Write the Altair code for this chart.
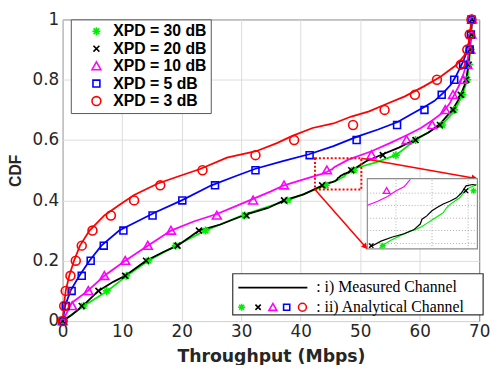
import math
import altair as alt
import pandas as pd

# ---------------- data ----------------
SERIES = ["XPD = 30 dB", "XPD = 20 dB", "XPD = 10 dB", "XPD = 5 dB", "XPD = 3 dB"]
COLORS = ["#00ee00", "#000000", "#ff00ff", "#0000ff", "#ff0000"]

CDF_LEVELS = [0.00, 0.05, 0.10, 0.15, 0.20, 0.25, 0.30, 0.35, 0.40, 0.45, 0.50,
              0.55, 0.60, 0.65, 0.70, 0.75, 0.80, 0.85, 0.90, 0.95, 1.00]

# analytical channel (markers): throughput at each CDF level
ANA_30 = [0, 3.5, 7.4, 10.7, 14.4, 19.0, 24.0, 30.6, 37.8, 44.2, 48.9, 56.0, 59.3, 63.8, 65.8, 67.2, 68.0, 68.3, 68.6, 68.7, 68.8]
ANA_20 = [0, 3.2, 6.0, 10.5, 14.0, 19.3, 22.9, 30.9, 37.2, 43.6, 48.5, 53.8, 59.3, 63.4, 65.6, 66.9, 67.8, 68.2, 68.5, 68.7, 68.8]
ANA_10 = [0, 1.6, 4.3, 7.0, 10.5, 14.3, 18.2, 25.9, 32.0, 37.2, 44.4, 51.9, 57.8, 62.1, 64.3, 65.6, 67.3, 68.0, 68.5, 68.7, 68.8]
ANA_5 = [0, 0.5, 1.5, 3.2, 4.7, 6.9, 10.2, 15.1, 20.1, 25.6, 32.4, 41.5, 49.4, 56.2, 60.8, 63.7, 65.8, 67.3, 68.4, 68.6, 68.7]
ANA_3 = [0, 0.25, 0.5, 1.3, 2.2, 3.2, 5.0, 8.1, 12.0, 16.4, 23.5, 32.4, 38.9, 48.8, 54.1, 59.2, 62.9, 66.9, 68.0, 68.4, 68.7]

# measured channel (lines): (throughput, CDF)
MEAS_30 = [(0, 0), (3.5, 0.05), (7.4, 0.098), (10.7, 0.149), (14.4, 0.20), (19.0, 0.25), (24.0, 0.30),
           (30.6, 0.354), (37.8, 0.40), (41.0, 0.425), (44.03, 0.4476), (44.28, 0.4514), (44.62, 0.4550),
           (45.13, 0.4594), (45.63, 0.4632), (45.97, 0.4653), (46.23, 0.4674), (46.48, 0.4703),
           (46.73, 0.4732), (46.99, 0.4762), (47.33, 0.4800), (47.50, 0.4845), (47.67, 0.4874),
           (47.92, 0.4904), (48.17, 0.4933), (48.43, 0.4992), (48.68, 0.5027), (48.94, 0.5045),
           (49.07, 0.5057), (52.5, 0.525), (56.0, 0.55), (59.3, 0.60), (61.8, 0.63), (63.8, 0.652),
           (65.8, 0.695), (67.2, 0.75), (68.0, 0.80), (68.3, 0.85), (68.6, 0.93), (68.8, 1.0)]
MEAS_20 = [(0, 0), (1.5, 0.02), (3.2, 0.047), (6.0, 0.10), (8.5, 0.13), (10.5, 0.15), (14.0, 0.20),
           (17.0, 0.23), (19.3, 0.25), (22.9, 0.30), (26.5, 0.32), (30.9, 0.354), (34.5, 0.375),
           (37.2, 0.40), (40.5, 0.42), (43.52, 0.4485), (44.11, 0.4541), (44.70, 0.4579),
           (45.30, 0.4609), (45.80, 0.4644), (46.14, 0.4697), (46.23, 0.4741), (46.48, 0.4771),
           (46.73, 0.4815), (46.99, 0.4845), (47.33, 0.4880), (47.67, 0.4904), (48.00, 0.4933),
           (48.26, 0.4977), (48.43, 0.5022), (48.51, 0.5045), (48.85, 0.5057), (49.02, 0.5051),
           (51.0, 0.53), (53.8, 0.553), (56.5, 0.575), (59.3, 0.603), (61.5, 0.625), (63.4, 0.653),
           (64.6, 0.68), (65.6, 0.703), (66.4, 0.73), (66.9, 0.75), (67.5, 0.78), (67.8, 0.80),
           (68.2, 0.85), (68.5, 0.92), (68.8, 1.0)]
MEAS_10 = [(0, 0), (1.5, 0.06), (4.2, 0.10), (7.0, 0.15), (10.5, 0.20), (14.3, 0.25), (18.2, 0.30),
           (22.0, 0.33), (25.9, 0.355), (29.0, 0.38), (32.0, 0.405), (35.0, 0.43), (37.2, 0.45),
           (40.5, 0.47), (43.4, 0.4868), (43.94, 0.4904), (44.45, 0.4948), (44.87, 0.4998),
           (45.30, 0.5036), (45.63, 0.5104), (48.0, 0.535), (51.9, 0.563), (55.0, 0.59), (57.9, 0.617),
           (60.2, 0.64), (62.1, 0.665), (63.8, 0.69), (65.0, 0.72), (65.8, 0.75), (66.6, 0.78),
           (67.3, 0.816), (68.0, 0.86), (68.4, 0.913), (68.8, 1.0)]
MEAS_5 = [(0, 0), (0.4, 0.05), (1.3, 0.10), (2.8, 0.15), (4.5, 0.20), (6.5, 0.25), (9.5, 0.30),
          (12.5, 0.33), (15.5, 0.36), (20.0, 0.40), (25.0, 0.45), (29.0, 0.48), (32.4, 0.505),
          (37.0, 0.53), (41.4, 0.553), (45.5, 0.58), (49.6, 0.612), (53.0, 0.635), (56.3, 0.66),
          (58.5, 0.685), (60.7, 0.709), (62.5, 0.73), (64.0, 0.757), (65.3, 0.785), (66.2, 0.816),
          (67.3, 0.86), (68.1, 0.902), (68.5, 0.95), (68.7, 1.0)]
MEAS_3 = [(0, 0), (0.2, 0.05), (0.5, 0.10), (1.1, 0.15), (1.9, 0.20), (2.9, 0.25), (4.5, 0.30),
          (7.0, 0.35), (9.5, 0.385), (12.0, 0.418), (16.0, 0.456), (19.5, 0.48), (23.1, 0.504),
          (27.6, 0.542), (32.5, 0.563), (36.0, 0.59), (38.6, 0.614), (42.0, 0.64), (45.5, 0.655),
          (48.5, 0.678), (51.5, 0.695), (54.1, 0.717), (57.5, 0.745), (60.7, 0.778), (63.5, 0.81),
          (66.1, 0.848), (67.5, 0.88), (68.2, 0.92), (68.5, 0.96), (68.7, 1.0)]

ANA = dict(zip(SERIES, [ANA_30, ANA_20, ANA_10, ANA_5, ANA_3]))
MEAS = dict(zip(SERIES, [MEAS_30, MEAS_20, MEAS_10, MEAS_5, MEAS_3]))

X_TICKS = [0, 10, 20, 30, 40, 50, 60, 70]
Y_TICKS = [0, 0.2, 0.4, 0.6, 0.8, 1]

# zoom annotation
RECT_X = [42.4, 50.2]
RECT_Y = [0.436, 0.54]
ZOOM_X = [43.4, 49.1]     # data range shown inside the inset
ZOOM_Y = [0.447, 0.511]
INSET_X = [51.2, 69.7]    # inset placement on main axes
INSET_Y = [0.239, 0.472]
INSET_GRID_X = [44.88, 46.75, 48.62]
INSET_GRID_Y = [0.452, 0.4638, 0.475, 0.4866, 0.4978]

LEGEND_TEXT = [": i) Measured Channel", ": ii) Analytical Channel"]

# ---------------- styling ----------------
W, H = 422.5, 306
STAR = "M0,-0.9L0,0.9M-0.9,0L0.9,0M-0.64,-0.64L0.64,0.64M-0.64,0.64L0.64,-0.64"
XMARK = "M-0.67,-0.67L0.67,0.67M-0.67,0.67L0.67,-0.67"
TRI = "M0,-0.95L1,0.8L-1,0.8Z"
SQR = "M-0.78,-0.78L0.78,-0.78L0.78,0.78L-0.78,0.78Z"
SHAPES = [STAR, XMARK, TRI, SQR, "circle"]
TICK_FONT = "DejaVu Sans"
TXT = "#262626"

# ---------------- frames ----------------
ana_df = pd.DataFrame([{"series": s, "x": x, "y": y}
                       for s in SERIES for x, y in zip(ANA[s], CDF_LEVELS)])
meas_df = pd.DataFrame([{"series": s, "x": x, "y": y, "i": i}
                        for s in SERIES for i, (x, y) in enumerate(MEAS[s])])


def to_inset(df):
    d = df[(df.x >= ZOOM_X[0]) & (df.x <= ZOOM_X[1]) &
           (df.y >= ZOOM_Y[0]) & (df.y <= ZOOM_Y[1])].copy()
    d["x"] = INSET_X[0] + (d.x - ZOOM_X[0]) * (INSET_X[1] - INSET_X[0]) / (ZOOM_X[1] - ZOOM_X[0])
    d["y"] = INSET_Y[0] + (d.y - ZOOM_Y[0]) * (INSET_Y[1] - INSET_Y[0]) / (ZOOM_Y[1] - ZOOM_Y[0])
    return d


inset_meas = to_inset(meas_df)
inset_ana = to_inset(ana_df)

xs = alt.Scale(domain=[0, 70], nice=False, zero=False)
ys = alt.Scale(domain=[0, 1], nice=False, zero=False)
cscale = alt.Scale(domain=SERIES, range=COLORS)
sscale = alt.Scale(domain=SERIES, range=SHAPES)

x_axis = alt.Axis(values=X_TICKS, title="Throughput (Mbps)", grid=True, gridColor="#dcdcdc",
                  domain=False, ticks=False, labelFlush=False, labelOverlap=False,
                  labelFont=TICK_FONT, labelFontSize=17, labelColor=TXT, labelPadding=3,
                  titleFont=TICK_FONT, titleFontSize=17.5, titleFontWeight="bold",
                  titleColor=TXT, titlePadding=8)
y_axis = alt.Axis(values=Y_TICKS, format="~g", title="CDF", grid=True, gridColor="#dcdcdc",
                  domain=False, ticks=False, labelFlush=False, labelOverlap=False,
                  labelFont=TICK_FONT, labelFontSize=17, labelColor=TXT, labelPadding=4,
                  titleFont="Liberation Sans", titleFontSize=16, titleFontWeight="bold",
                  titleColor=TXT, titlePadding=9)

LEG = alt.Legend(title=None, orient="none", legendX=8.2, legendY=0, fillColor="white",
                 strokeColor="#555555", padding=4, labelFont="Liberation Sans", labelFontSize=16,
                 labelFontWeight="bold", labelColor="black", symbolSize=81,
                 symbolStrokeWidth=1.6, rowPadding=1.7, labelOffset=9, symbolOffset=14)

lines = alt.Chart(meas_df).mark_line(strokeWidth=1.8).encode(
    x=alt.X("x:Q", scale=xs, axis=x_axis),
    y=alt.Y("y:Q", scale=ys, axis=y_axis),
    color=alt.Color("series:N", scale=cscale, legend=None),
    order="i:Q",
)

points = alt.Chart(ana_df).mark_point(filled=False, strokeWidth=1.6, size=81, opacity=1).encode(
    x=alt.X("x:Q", scale=xs),
    y=alt.Y("y:Q", scale=ys),
    color=alt.Color("series:N", scale=cscale, legend=LEG),
    shape=alt.Shape("series:N", scale=sscale, legend=LEG),
)

zoom_rect = alt.Chart(pd.DataFrame({"x": [RECT_X[0]], "x2": [RECT_X[1]],
                                    "y": [RECT_Y[0]], "y2": [RECT_Y[1]]})).mark_rect(
    filled=False, color="#ff0000", strokeDash=[2, 2], strokeWidth=2).encode(
    x="x:Q", x2="x2:Q", y="y:Q", y2="y2:Q")

arrows = pd.DataFrame({"x": [RECT_X[1], RECT_X[0]], "y": [RECT_Y[1], RECT_Y[0]],
                       "x2": [INSET_X[1], INSET_X[0]], "y2": [INSET_Y[1], INSET_Y[0]]})
arrow_lines = alt.Chart(arrows).mark_rule(color="#ff0000", strokeWidth=1.5).encode(
    x="x:Q", y="y:Q", x2="x2:Q", y2="y2:Q")

heads = []
for _, r in arrows.iterrows():
    dxp = (r.x2 - r.x) * W / 70
    dyp = (r.y - r.y2) * H
    ang = math.degrees(math.atan2(dyp, dxp))
    heads.append(alt.Chart(pd.DataFrame({"x": [r.x2], "y": [r.y2]})).mark_point(
        shape="triangle-right", filled=True, color="#ff0000", size=45, opacity=1, angle=ang,
        xOffset=-3 * math.cos(math.radians(ang)), yOffset=-3 * math.sin(math.radians(ang))).encode(
        x="x:Q", y="y:Q"))

inset_box = alt.Chart(pd.DataFrame({"x": [INSET_X[0]], "x2": [INSET_X[1]],
                                    "y": [INSET_Y[0]], "y2": [INSET_Y[1]]})).mark_rect(
    fill="white", stroke="#8c8c8c", strokeWidth=1.2).encode(x="x:Q", x2="x2:Q", y="y:Q", y2="y2:Q")

gx = pd.DataFrame({"x": [INSET_X[0] + (v - ZOOM_X[0]) * (INSET_X[1] - INSET_X[0]) / (ZOOM_X[1] - ZOOM_X[0])
                         for v in INSET_GRID_X]})
gx["y"], gx["y2"] = INSET_Y[0], INSET_Y[1]
gy = pd.DataFrame({"y": [INSET_Y[0] + (v - ZOOM_Y[0]) * (INSET_Y[1] - INSET_Y[0]) / (ZOOM_Y[1] - ZOOM_Y[0])
                         for v in INSET_GRID_Y]})
gy["x"], gy["x2"] = INSET_X[0], INSET_X[1]
grid_v = alt.Chart(gx).mark_rule(color="#9a9a9a", strokeDash=[1, 2], strokeWidth=0.8).encode(
    x="x:Q", y="y:Q", y2="y2:Q")
grid_h = alt.Chart(gy).mark_rule(color="#9a9a9a", strokeDash=[1, 2], strokeWidth=0.8).encode(
    y="y:Q", x="x:Q", x2="x2:Q")

inset_lines = alt.Chart(inset_meas).mark_line(strokeWidth=1.2).encode(
    x="x:Q", y="y:Q", color=alt.Color("series:N", scale=cscale, legend=None), order="i:Q")
inset_points = alt.Chart(inset_ana).mark_point(filled=False, strokeWidth=1.3, size=45, opacity=1).encode(
    x="x:Q", y="y:Q",
    color=alt.Color("series:N", scale=cscale, legend=None),
    shape=alt.Shape("series:N", scale=sscale, legend=None))

one = pd.DataFrame({"a": [0]})
leg_box = alt.Chart(one).mark_rect(fill="white", stroke="#333333", strokeWidth=1.2).encode(
    x=alt.value(172.5), x2=alt.value(426.5), y=alt.value(258), y2=alt.value(299.7))
leg_line = alt.Chart(one).mark_rule(color="black", strokeWidth=1.8).encode(
    x=alt.value(178.2), x2=alt.value(248.2), y=alt.value(272))
leg_t1 = alt.Chart(one).mark_text(align="left", baseline="middle", font="Liberation Serif",
                                  fontSize=16, color="black", text=LEGEND_TEXT[0]).encode(
    x=alt.value(257.2), y=alt.value(272))
leg_t2 = alt.Chart(one).mark_text(align="left", baseline="middle", font="Liberation Serif",
                                  fontSize=16, color="black", text=LEGEND_TEXT[1]).encode(
    x=alt.value(257.2), y=alt.value(292))
leg_marks = []
for px, col, shp in zip([181.5, 198.2, 213.2, 227.2, 243.2], COLORS, SHAPES):
    leg_marks.append(alt.Chart(one).mark_point(filled=False, strokeWidth=1.6, size=64, opacity=1,
                                               color=col, shape=shp).encode(
        x=alt.value(px), y=alt.value(292)))

chart = alt.layer(
    lines, points, zoom_rect, arrow_lines, *heads, inset_box, grid_v, grid_h,
    inset_lines, inset_points, leg_box, leg_line, leg_t1, leg_t2, *leg_marks
).resolve_scale(color="independent", shape="independent").properties(
    width=W, height=H,
    autosize=alt.AutoSizeParams(type="none"),
    padding={"left": 55.5, "top": 9, "right": 13, "bottom": 42},
).configure_view(stroke="#555555", strokeWidth=1)

chart.save("out.html", embed_options={"renderer": "svg", "actions": False})
